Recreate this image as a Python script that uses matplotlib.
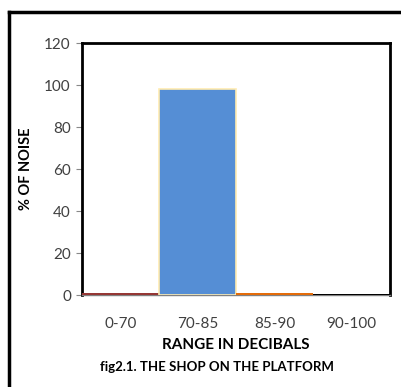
import matplotlib.pyplot as plt
from matplotlib.lines import Line2D

categories = ['0-70', '70-85', '85-90', '90-100']
noise_pct = [1, 98, 1, 0.5]
bar_colors = ['#953735', '#558ED5', '#E46C0A', '#000000']
yticks = [0, 20, 40, 60, 80, 100, 120]

plt.rcParams['font.family'] = ['Lato', 'DejaVu Sans']

fig = plt.figure(figsize=(4.01, 3.87), dpi=100)
ax = fig.add_axes([0.2045, 0.2377, 0.768, 0.651])

# outer frame (left and top only, the rest is cut off)
fig.add_artist(Line2D([0.023, 0.023], [0, 0.969], color='black', lw=2.5,
                      transform=fig.transFigure))
fig.add_artist(Line2D([0.023, 1.0], [0.969, 0.969], color='black', lw=2.5,
                      transform=fig.transFigure))

x = range(len(categories))
ax.bar(x, noise_pct, width=1.0, color=bar_colors,
       edgecolor=['none', '#FFEBB0', 'none', 'none'], linewidth=1.2, zorder=3)

ax.set_xlim(-0.5, len(categories) - 0.5)
ax.set_ylim(0, 120)
ax.set_yticks(yticks)
ax.set_xticks(list(x))
ax.set_xticklabels(categories)
ax.tick_params(axis='x', length=0, pad=16, labelsize=11, colors='#404040')
ax.tick_params(axis='y', length=4, width=0.8, color='#888888', pad=4,
               labelsize=11, labelcolor='#404040')

for s in ax.spines.values():
    s.set_linewidth(2)
    s.set_color('black')
ax.spines['bottom'].set_linewidth(1)
ax.spines['bottom'].set_color('#808080')

ax.set_xlabel('RANGE IN DECIBALS', fontsize=11, fontweight='bold', labelpad=5)
ax.set_ylabel('% OF NOISE', fontsize=10.5, fontweight='bold', labelpad=8)
fig.text(0.54, 0.052, 'fig2.1. THE SHOP ON THE PLATFORM', fontsize=9.5,
         fontweight='bold', ha='center', va='center')

plt.savefig('out.png', dpi=100)
